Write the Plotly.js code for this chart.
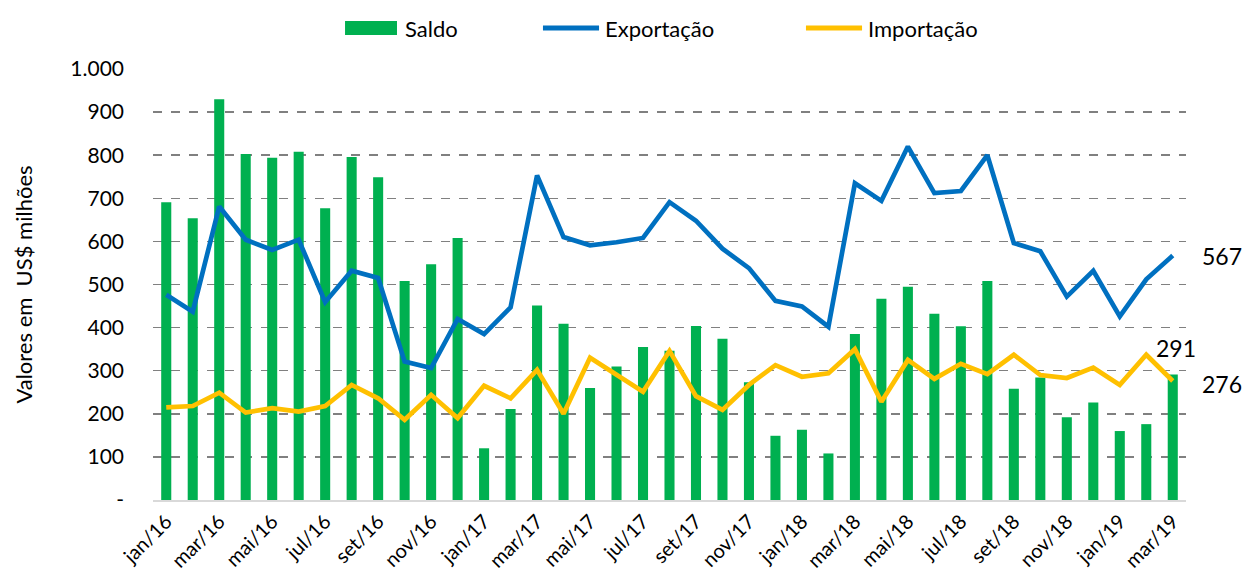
<!DOCTYPE html>
<html>
<head>
<meta charset="utf-8">
<script src="https://cdn.plot.ly/plotly-3.0.1.min.js"></script>
<style>html,body{margin:0;padding:0;background:#fff;}#chart{width:1245px;height:581px;}</style>
</head>
<body>
<div id="chart"></div>
<script>
const months = ["jan/16","fev/16","mar/16","abr/16","mai/16","jun/16","jul/16","ago/16","set/16","out/16","nov/16","dez/16",
"jan/17","fev/17","mar/17","abr/17","mai/17","jun/17","jul/17","ago/17","set/17","out/17","nov/17","dez/17",
"jan/18","fev/18","mar/18","abr/18","mai/18","jun/18","jul/18","ago/18","set/18","out/18","nov/18","dez/18",
"jan/19","fev/19","mar/19"];
const saldo = [691,654,930,803,794,808,677,796,749,508,547,608,
120,211,451,409,260,310,355,346,404,374,273,149,
163,108,385,467,495,432,403,508,258,284,192,226,
160,176,291];
const exportacao = [476,437,681,604,580,604,459,532,515,321,306,420,
385,447,753,610,591,598,608,691,648,583,538,462,
449,402,735,694,820,712,717,800,596,577,472,532,
426,512,567];
const importacao = [215,218,249,203,213,205,218,267,236,186,244,190,
265,236,302,200,330,290,251,346,241,209,267,313,
286,294,350,228,325,281,316,292,337,290,283,307,
267,337,276];
const seriesNames = ["Saldo","Exportação","Importação"];
const seriesColors = ["#00B050","#0070C0","#FFC000"];
const tickMonths = months.filter((m,i)=>i%2===0);
const yTickVals = [0,100,200,300,400,500,600,700,800,900,1000];
const yTickText = ["-","100","200","300","400","500","600","700","800","900","1.000"];
const labelExport = "567", labelSaldo = "291", labelImport = "276";

const FONT = "Lato, 'Open Sans', sans-serif";
const traces = [
  {type:"bar", name:seriesNames[0], x:months, y:saldo, marker:{color:seriesColors[0]}},
  {type:"scatter", mode:"lines", name:seriesNames[1], x:months, y:exportacao, line:{color:seriesColors[1], width:4.7}},
  {type:"scatter", mode:"lines", name:seriesNames[2], x:months, y:importacao, line:{color:seriesColors[2], width:4.7}}
];
const last = months[months.length-1];

// legend drawn as paper-positioned shapes + text
const legY = 1.095;
const legShapes = [
  {type:"rect", xref:"paper", yref:"paper", x0:0.1859, x1:0.2362, y0:1.0789, y1:1.1114, fillcolor:seriesColors[0], line:{width:0}},
  {type:"line", xref:"paper", yref:"paper", x0:0.3775, x1:0.4318, y0:legY, y1:legY, line:{color:seriesColors[1], width:5}},
  {type:"line", xref:"paper", yref:"paper", x0:0.6321, x1:0.6864, y0:legY, y1:legY, line:{color:seriesColors[2], width:5}}
];
const legTextX = [0.2420, 0.4356, 0.6902];
const legAnn = seriesNames.map((n,i)=>({xref:"paper", yref:"paper", x:legTextX[i], y:legY, xanchor:"left", yanchor:"middle",
  text:n, showarrow:false, font:{size:22}}));

const layout = {
  width:1245, height:581,
  margin:{l:153, r:59, t:69, b:81},
  paper_bgcolor:"#fff", plot_bgcolor:"#fff",
  font:{family:FONT, size:20, color:"#000"},
  bargap:0.62,
  showlegend:false,
  xaxis:{type:"category", tickvals:tickMonths, ticktext:tickMonths, tickangle:-45,
         showgrid:false, showline:true, linecolor:"#D9D9D9", linewidth:2, ticks:"",
         tickfont:{size:20}, range:[-0.5, months.length-0.5]},
  yaxis:{range:[0,1000], tickvals:yTickVals, ticktext:yTickText, showgrid:true,
         gridcolor:"#808080", griddash:"dash", gridwidth:1.5, zeroline:false, ticks:"",
         tickfont:{size:21}, ticklabelstandoff:28,
         title:{text:"Valores em&nbsp;&nbsp;US$ milhões", font:{size:22}, standoff:31}},
  shapes:legShapes,
  annotations:legAnn.concat([
    {x:last, y:exportacao[exportacao.length-1], text:labelExport, showarrow:false, xshift:49, font:{size:23}},
    {x:last, y:saldo[saldo.length-1], text:labelSaldo, showarrow:false, yshift:27, xshift:3, font:{size:23}},
    {x:last, y:importacao[importacao.length-1], text:labelImport, showarrow:false, xshift:49, yshift:-3, font:{size:23}}
  ])
};
Plotly.newPlot("chart", traces, layout, {displayModeBar:false, staticPlot:true});
</script>
</body>
</html>
